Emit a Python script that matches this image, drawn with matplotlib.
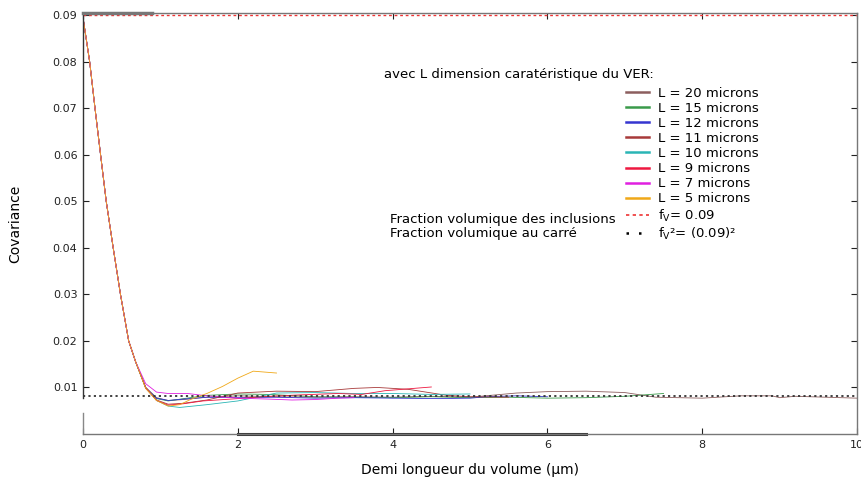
import numpy as np
import matplotlib.pyplot as plt

# decroissance commune (h en microns, covariance)
decay_h = [0.0, 0.086, 0.155, 0.227, 0.30, 0.39, 0.484, 0.59, 0.68]
decay_c = [0.0895, 0.080, 0.070, 0.060, 0.050, 0.040, 0.030, 0.020, 0.0155]

# queues de chaque courbe
h_20 = [0.81, 0.95, 1.1, 1.3, 1.6, 2.0, 2.5, 3.0, 3.5, 4.0, 4.5, 5.0, 5.6, 6.0, 6.5, 7.0, 7.4, 8.0, 8.5, 8.9, 9.0, 9.2, 9.4, 10.0]
c_20 = [0.0100, 0.0078, 0.0072, 0.0074, 0.0079, 0.0082, 0.0080, 0.0079, 0.0080, 0.0079, 0.0081, 0.0079, 0.0088, 0.0091, 0.0092, 0.0089, 0.0079, 0.0077, 0.0082, 0.0082, 0.0078, 0.0081, 0.0080, 0.0077]
h_15 = [0.81, 0.95, 1.1, 1.3, 1.6, 2.0, 2.4, 3.0, 3.5, 4.0, 4.5, 5.0, 5.5, 6.0, 6.5, 7.0, 7.5]
c_15 = [0.0099, 0.0076, 0.0071, 0.0076, 0.0083, 0.0086, 0.0085, 0.0080, 0.0079, 0.0078, 0.0080, 0.0078, 0.0079, 0.0077, 0.0078, 0.0081, 0.0087]
h_12 = [0.81, 0.95, 1.1, 1.3, 1.6, 2.0, 2.5, 3.0, 3.5, 4.0, 4.6, 5.0, 5.2, 5.6, 6.0]
c_12 = [0.0099, 0.0077, 0.0072, 0.0075, 0.0079, 0.0078, 0.0079, 0.0077, 0.0078, 0.0077, 0.0076, 0.0077, 0.0080, 0.0082, 0.0080]
h_11 = [0.81, 0.95, 1.1, 1.3, 1.6, 2.0, 2.5, 3.0, 3.5, 3.8, 4.2, 4.7, 5.0, 5.5]
c_11 = [0.0098, 0.0073, 0.0064, 0.0066, 0.0073, 0.0088, 0.0092, 0.0091, 0.0098, 0.0100, 0.0096, 0.0083, 0.0080, 0.0079]
h_10 = [0.81, 0.95, 1.1, 1.25, 1.6, 2.0, 2.5, 3.0, 3.5, 4.0, 4.5, 5.0]
c_10 = [0.0100, 0.0072, 0.0060, 0.0057, 0.0063, 0.0071, 0.0088, 0.0089, 0.0087, 0.0087, 0.0085, 0.0086]
h_9 = [0.81, 0.95, 1.1, 1.3, 1.55, 2.0, 2.4, 2.8, 3.3, 3.6, 3.9, 4.2, 4.5]
c_9 = [0.0100, 0.0072, 0.0062, 0.0065, 0.0071, 0.0076, 0.0081, 0.0084, 0.0087, 0.0085, 0.0093, 0.0097, 0.0101]
h_7 = [0.81, 0.95, 1.1, 1.35, 1.6, 2.0, 2.4, 2.7, 3.0, 3.3, 3.5]
c_7 = [0.0108, 0.0090, 0.0087, 0.0087, 0.0082, 0.0077, 0.0075, 0.0073, 0.0074, 0.0077, 0.0078]
h_5 = [0.81, 0.95, 1.1, 1.25, 1.4, 1.6, 1.8, 2.0, 2.2, 2.35, 2.5]
c_5 = [0.0098, 0.0072, 0.0060, 0.0063, 0.0075, 0.0087, 0.0102, 0.0120, 0.0135, 0.0133, 0.0131]

series = [
    ("L = 20 microns", h_20, c_20, "#8c5e5e"),
    ("L = 15 microns", h_15, c_15, "#3a9a4a"),
    ("L = 12 microns", h_12, c_12, "#3535d0"),
    ("L = 11 microns", h_11, c_11, "#a83a3a"),
    ("L = 10 microns", h_10, c_10, "#2ab5b5"),
    ("L = 9 microns", h_9, c_9, "#ee1840"),
    ("L = 7 microns", h_7, c_7, "#e020e0"),
    ("L = 5 microns", h_5, c_5, "#f0a818"),
]

fv = 0.09
fv2 = 0.09 ** 2

fig = plt.figure(figsize=(8.62, 4.79), dpi=100)
ax = fig.add_axes([0.0963, 0.094, 0.898, 0.879])

handles = []
for label, h, c, col in series:
    ax.plot(decay_h + h, decay_c + c, color=col, lw=0.6)
    handles.append(plt.Line2D([], [], color=col, lw=1.8, label=label))

ax.axhline(fv, color="#ee3333", lw=1.0, ls=(0, (2, 2)))
ax.axhline(fv2, color="#333333", lw=1.3, ls=(0, (1.2, 1.8)))
handles.append(plt.Line2D([], [], color="#ee3333", lw=1.2, ls=(0, (2, 2)),
                          label=r"f$_\mathrm{V}$= 0.09"))
handles.append(plt.Line2D([], [], color="black", lw=1.8, ls=(0, (1, 4)),
                          label=r"f$_\mathrm{V}$²= (0.09)²"))

ax.set_xlim(0, 10)
ax.set_ylim(0, 0.0905)
ax.set_xticks([0, 2, 4, 6, 8, 10])
ax.set_yticks([0.01, 0.02, 0.03, 0.04, 0.05, 0.06, 0.07, 0.08, 0.09])
ax.set_yticklabels(["0.01", "0.02", "0.03", "0.04", "0.05", "0.06", "0.07", "0.08", "0.09"])
ax.tick_params(direction="in", length=4, top=True, right=True, labelsize=8,
               colors="#222222", pad=4)
ax.set_xlabel("Demi longueur du volume (µm)", fontsize=10, labelpad=10)
ax.set_ylabel("Covariance", fontsize=10, labelpad=22)

for s in ax.spines.values():
    s.set_color("#777777")
    s.set_linewidth(1.0)
ax.spines["left"].set_visible(False)
# axe gauche interrompu comme sur l'original
yt = ax.get_yaxis_transform()
ax.plot([0, 0], [0, 0.0045], color="#888888", lw=1, transform=yt, clip_on=False)
ax.plot([0, 0], [0.0077, 0.0905], color="#333333", lw=1, transform=yt, clip_on=False)
xt = ax.get_xaxis_transform()
ax.plot([0, 0.89], [1, 1], color="#777777", lw=2.5, transform=xt, clip_on=False)
ax.plot([2, 6.5], [0, 0], color="#333333", lw=2.2, transform=xt, clip_on=False)

ax.text(0.389, 0.853, "avec L dimension caratéristique du VER:", transform=ax.transAxes,
        fontsize=9.5, va="center", ha="left")
ax.text(0.397, 0.51, "Fraction volumique des inclusions", transform=ax.transAxes,
        fontsize=9.5, va="center", ha="left")
ax.text(0.397, 0.476, "Fraction volumique au carré", transform=ax.transAxes,
        fontsize=9.5, va="center", ha="left")

ax.legend(handles=handles, loc="upper left", bbox_to_anchor=(0.7016, 0.825),
          frameon=False, fontsize=9.5, handlelength=1.75, handletextpad=0.68,
          labelspacing=0.16, borderpad=0, borderaxespad=0)

fig.savefig("out.png", dpi=100)
